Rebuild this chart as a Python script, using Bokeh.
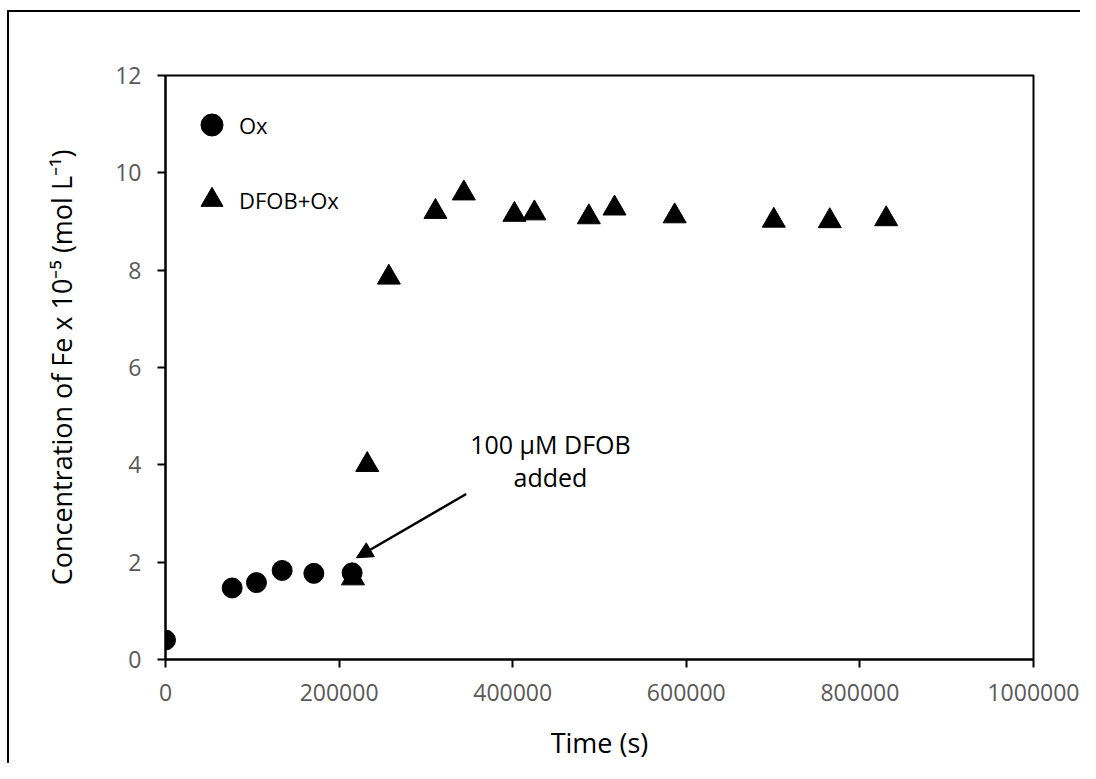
from bokeh.plotting import figure
from bokeh.models import Range1d, FixedTicker, Legend, LegendItem, Arrow, NormalHead
from bokeh.core.properties import value
from bokeh.embed import file_html
from bokeh.resources import INLINE

# ---- data ----
ox_time = [0, 76800, 104800, 134400, 170900, 215000]
ox_fe = [0.40, 1.47, 1.58, 1.83, 1.77, 1.78]

dfob_time = [216000, 232400, 257300, 311000, 343700, 402000, 425000,
             487700, 517300, 586600, 700800, 765300, 830300]
dfob_fe = [1.67, 4.00, 7.85, 9.20, 9.58, 9.14, 9.17,
           9.09, 9.27, 9.11, 9.02, 9.01, 9.05]

x_ticks = [0, 200000, 400000, 600000, 800000, 1000000]
x_tick_labels = ["0", "200000", "400000", "600000", "800000", "1000000"]
y_ticks = [0, 2, 4, 6, 8, 10, 12]
y_tick_labels = ["0", "2", "4", "6", "8", "10", "12"]

series_names = ["Ox", "DFOB+Ox"]

annot_text = ["100 \u00b5M DFOB", "added"]
annot_x = [443500, 443500]
annot_y = [4.43, 3.76]
arrow_start = [346400, 3.40]
arrow_end = [220000, 2.09]

x_title = "Time (s)"
y_title = "Concentration of Fe x 10\u207b\u2075 (mol L\u207b\u00b9)"

FONT = "Open Sans"

p = figure(width=1080, height=763, output_backend="svg", toolbar_location=None,
           x_range=Range1d(0, 1000000), y_range=Range1d(0, 12),
           min_border_left=165, min_border_top=75, min_border_right=47,
           min_border_bottom=104)
# outer chart border (left and top edges only) painted behind a transparent canvas border
p.styles = {"background": ("linear-gradient(#000, #000) 7px 10px / 2px 3000px no-repeat, "
                           "linear-gradient(#000, #000) 7px 10px / 3000px 2px no-repeat, #fff")}
p.border_fill_color = None

p.grid.visible = False
p.outline_line_color = "black"
p.outline_line_width = 2
p.background_fill_color = "white"

r1 = p.scatter(ox_time, ox_fe, marker="circle", size=20,
               fill_color="black", line_color="black")
r2 = p.scatter(dfob_time, dfob_fe, marker="triangle", size=23,
               fill_color="black", line_color="black")

for ax, ticks, labels in ((p.xaxis, x_ticks, x_tick_labels), (p.yaxis, y_ticks, y_tick_labels)):
    ax.ticker = FixedTicker(ticks=ticks)
    ax.major_label_overrides = {t: l for t, l in zip(ticks, labels)}
    ax.minor_tick_line_color = None
    ax.major_tick_in = 0
    ax.major_tick_out = 8
    ax.major_tick_line_color = "black"
    ax.major_tick_line_width = 2
    ax.axis_line_color = "black"
    ax.axis_line_width = 2
    ax.major_label_text_font = FONT
    ax.major_label_text_font_size = "23px"
    ax.major_label_text_color = "#595959"
    ax.axis_label_text_font = FONT
    ax.axis_label_text_font_size = "27px"
    ax.axis_label_text_font_style = "normal"
    ax.axis_label_text_color = "black"

p.xaxis.axis_label = x_title
p.yaxis.axis_label = y_title
p.xaxis.major_label_standoff = 16
p.yaxis.major_label_standoff = 16
p.xaxis.axis_label_standoff = 20
p.yaxis.axis_label_standoff = 32

legend = Legend(items=[LegendItem(label=series_names[0], renderers=[r1]),
                       LegendItem(label=series_names[1], renderers=[r2])],
                location=(19, 432), glyph_width=55, glyph_height=55,
                label_standoff=0, spacing=20, padding=0,
                border_line_color=None, background_fill_alpha=0,
                label_text_font=FONT, label_text_font_size="22px",
                label_text_color="black")
p.add_layout(legend)

p.text(x=annot_x, y=annot_y, text=annot_text, text_font=value(FONT),
       text_font_size=value("25px"), text_align="center",
       text_baseline="alphabetic", text_color="black")

p.add_layout(Arrow(end=NormalHead(size=16, fill_color="black", line_color="black"),
                   x_start=arrow_start[0], y_start=arrow_start[1],
                   x_end=arrow_end[0], y_end=arrow_end[1],
                   line_width=2.5, line_color="black"))

open("out.html", "w").write(file_html(p, INLINE))
